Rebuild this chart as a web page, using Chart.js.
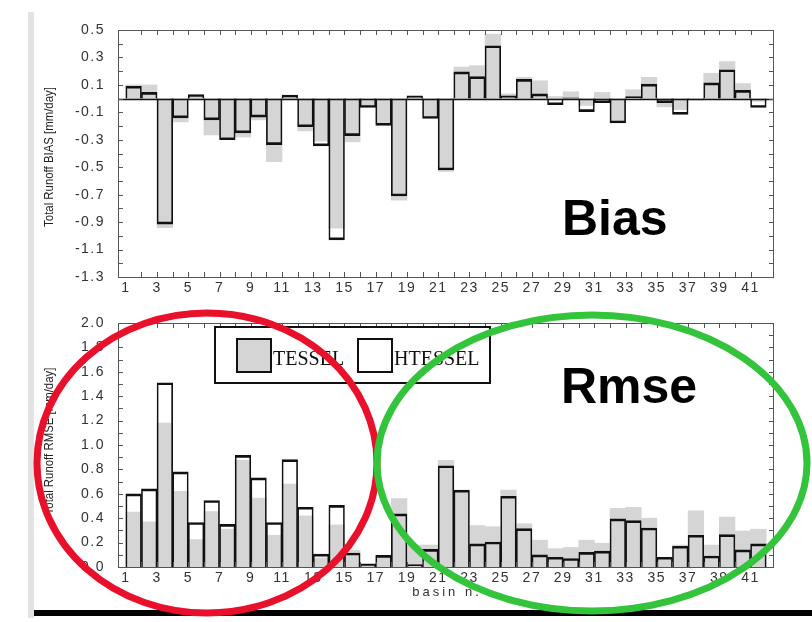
<!DOCTYPE html>
<html>
<head>
<meta charset="utf-8">
<title>Total Runoff Bias / Rmse per basin</title>
<script src="https://cdn.jsdelivr.net/npm/chart.js@4.4.0/dist/chart.umd.min.js"></script>
<style>
  html, body { margin:0; padding:0; background:#fff; }
  #wrap { position:relative; width:812px; height:622px; overflow:hidden; }
  #biasChart { position:absolute; left:0; top:0; }
  #rmseChart { position:absolute; left:0; top:300px; }
  #overlay { position:absolute; left:0; top:0; }
</style>
</head>
<body>
<div id="wrap">
  <canvas id="biasChart" width="812" height="300"></canvas>
  <canvas id="rmseChart" width="812" height="310"></canvas>
  <svg id="overlay" width="812" height="622" xmlns="http://www.w3.org/2000/svg">
    <rect x="28" y="12" width="6" height="606" fill="#e3e3e3"/>
    <rect x="34" y="610" width="778" height="6" fill="#000"/>
    <text x="562" y="235" font-family="Arial, 'Liberation Sans', sans-serif" font-weight="bold" font-size="50" fill="#000">Bias</text>
    <text x="561" y="403" font-family="Arial, 'Liberation Sans', sans-serif" font-weight="bold" font-size="50" fill="#000">Rmse</text>
    <ellipse cx="207" cy="463" rx="170" ry="150" fill="none" stroke="#e8102a" stroke-width="7"/>
    <ellipse cx="592" cy="463" rx="215" ry="148" fill="none" stroke="#33c43b" stroke-width="7"/>
  </svg>
</div>
<script>
// --- dati ---
const basins = [1,2,3,4,5,6,7,8,9,10,11,12,13,14,15,16,17,18,19,20,21,
                22,23,24,25,26,27,28,29,30,31,32,33,34,35,36,37,38,39,40,41];

const biasTessel = [0.10, 0.10, -0.94, -0.17, 0.01, -0.265, -0.28, -0.28, -0.155, -0.46,
  0.015, -0.235, -0.31, -0.945, -0.315, -0.055, -0.18, -0.74, 0.015, -0.13,
  -0.53, 0.23, 0.24, 0.47, 0.035, 0.155, 0.13, 0.015, 0.05, -0.05,
  0.045, -0.17, 0.065, 0.155, -0.06, -0.08, -0.005, 0.185, 0.27, 0.11, -0.02];

const biasHtessel = [0.09, 0.045, -0.915, -0.14, 0.03, -0.155, -0.30, -0.25, -0.135, -0.335,
  0.025, -0.205, -0.345, -1.03, -0.27, -0.065, -0.195, -0.71, 0.02, -0.145,
  -0.52, 0.195, 0.16, 0.385, 0.02, 0.14, 0.035, -0.045, 0.005, -0.095,
  -0.03, -0.178, 0.015, 0.105, -0.03, -0.115, -0.01, 0.115, 0.21, 0.06, -0.065];

const rmseTessel = [0.45, 0.37, 1.18, 0.62, 0.225, 0.455, 0.31, 0.875, 0.565, 0.26,
  0.68, 0.42, 0.075, 0.345, 0.135, 0.02, 0.09, 0.56, 0.18, 0.18,
  0.875, 0.625, 0.34, 0.33, 0.63, 0.355, 0.22, 0.15, 0.16, 0.22,
  0.195, 0.48, 0.49, 0.40, 0.075, 0.18, 0.46, 0.18, 0.41, 0.295, 0.31];

const rmseHtessel = [0.60, 0.64, 1.51, 0.78, 0.365, 0.545, 0.35, 0.915, 0.73, 0.365,
  0.88, 0.49, 0.105, 0.505, 0.115, 0.025, 0.095, 0.435, 0.02, 0.145,
  0.83, 0.63, 0.19, 0.205, 0.58, 0.315, 0.10, 0.08, 0.07, 0.12,
  0.13, 0.395, 0.38, 0.32, 0.08, 0.17, 0.26, 0.09, 0.265, 0.14, 0.19];

const seriesNames = ['TESSEL', 'HTESSEL'];
const biasTitle = 'Total Runoff BIAS [mm/day]';
const rmseTitle = 'Total Runoff RMSE [mm/day]';
const xTitle = 'basin n.';

const GRAY = '#d5d5d5';
const TICK_SPACING = '1.5px';
Chart.defaults.font.family = 'Arial, "Liberation Sans", sans-serif';

// spaziatura larga delle etichette, come nell'originale
const spacing = {
  id: 'spacing',
  beforeUpdate(chart) { chart.ctx.letterSpacing = TICK_SPACING; },
  beforeDraw(chart) { chart.ctx.letterSpacing = TICK_SPACING; }
};

// cornice, tacche interne, linea dello zero e titoli degli assi
const frameTicks = {
  id: 'frameTicks',
  afterDatasetsDraw(chart, args, o) {
    const { ctx, chartArea: a, scales: { x, y } } = chart;
    ctx.save();
    // linea dello zero
    if (y.min < 0 && y.max > 0) {
      const y0 = Math.round(y.getPixelForValue(0)) + 0.5;
      ctx.strokeStyle = '#111'; ctx.lineWidth = 1.6;
      ctx.beginPath(); ctx.moveTo(a.left, y0); ctx.lineTo(a.right, y0); ctx.stroke();
    }
    ctx.strokeStyle = '#555'; ctx.lineWidth = 1;
    ctx.strokeRect(a.left + 0.5, a.top + 0.5, a.right - a.left - 1, a.bottom - a.top);
    ctx.beginPath();
    const n = Math.round((y.max - y.min) / 0.1);
    for (let i = 1; i < n; i++) {
      const py = Math.round(y.getPixelForValue(y.min + i * 0.1)) + 0.5;
      ctx.moveTo(a.left, py); ctx.lineTo(a.left + 5, py);
      ctx.moveTo(a.right, py); ctx.lineTo(a.right - 5, py);
    }
    for (let v = Math.ceil(x.min) + 1; v < x.max; v++) {
      const px = Math.round(x.getPixelForValue(v)) + 0.5;
      ctx.moveTo(px, a.top); ctx.lineTo(px, a.top + 5);
      ctx.moveTo(px, a.bottom); ctx.lineTo(px, a.bottom - 5);
    }
    ctx.stroke();
    // titolo asse y
    ctx.letterSpacing = '0px';
    ctx.fillStyle = '#222';
    ctx.font = '12px Arial, "Liberation Sans", sans-serif';
    ctx.textAlign = 'center'; ctx.textBaseline = 'middle';
    ctx.translate(o.titleX, o.titleY);
    ctx.rotate(-Math.PI / 2);
    ctx.scale(0.95, 1);
    ctx.fillText(o.title, 0, 0);
    ctx.restore();
    if (o.xTitle) {
      ctx.save();
      ctx.fillStyle = '#333';
      ctx.font = '13px Arial, "Liberation Sans", sans-serif';
      ctx.textAlign = 'center'; ctx.textBaseline = 'middle';
      ctx.letterSpacing = '3px';
      ctx.fillText(o.xTitle, (a.left + a.right) / 2 + 1, o.xTitleY);
      ctx.restore();
    }
  }
};

// legenda a riquadro (solo grafico RMSE)
const boxLegend = {
  id: 'boxLegend',
  afterDraw(chart, args, o) {
    if (!o.show) return;
    const ctx = chart.ctx;
    const ds = chart.data.datasets;
    ctx.save();
    ctx.letterSpacing = '0px';
    ctx.fillStyle = '#fff';
    ctx.fillRect(o.x, o.y, o.w, o.h);
    ctx.strokeStyle = '#111'; ctx.lineWidth = 2;
    ctx.strokeRect(o.x, o.y, o.w, o.h);
    ctx.font = '20px "Times New Roman", "Liberation Serif", serif';
    ctx.textBaseline = 'alphabetic';
    o.items.forEach((it, i) => {
      const d = ds[i];
      ctx.fillStyle = d.legendFill;
      ctx.fillRect(it.sx, o.y + 12, 34, 33);
      ctx.strokeRect(it.sx, o.y + 12, 34, 33);
      ctx.fillStyle = '#111';
      ctx.fillText(d.label, it.sx + 36, o.y + 38);
    });
    ctx.restore();
  }
};

function makeChart(id, tessel, htessel, yMin, yMax, padTop, xHeight, pluginOpts, legendOpts) {
  return new Chart(document.getElementById(id), {
    type: 'bar',
    data: {
      datasets: [
        {
          label: seriesNames[0],
          data: basins.map((b, i) => ({ x: b + 0.5, y: tessel[i] })),
          backgroundColor: GRAY, legendFill: GRAY,
          borderWidth: 0,
          grouped: false, order: 2,
          barPercentage: 1, categoryPercentage: 1
        },
        {
          label: seriesNames[1],
          data: basins.map((b, i) => ({ x: b + 0.5, y: htessel[i] })),
          backgroundColor: 'rgba(0,0,0,0)', legendFill: '#fff',
          borderColor: '#111',
          borderWidth: { top: 2, bottom: 2, left: 1, right: 1 },
          grouped: false, order: 1,
          barPercentage: 1, categoryPercentage: 1
        }
      ]
    },
    options: {
      responsive: false,
      animation: false,
      events: [],
      layout: { padding: { top: padTop, right: 38, left: 0, bottom: 0 } },
      plugins: {
        legend: { display: false },
        tooltip: { enabled: false },
        frameTicks: pluginOpts,
        boxLegend: legendOpts
      },
      scales: {
        x: {
          type: 'linear', min: 1, max: 42,
          grid: { display: false, drawTicks: false },
          border: { display: false },
          ticks: {
            stepSize: 1, autoSkip: false, maxRotation: 0, padding: 3,
            color: '#333', font: { size: 14 },
            callback: v => (v % 2 === 1 ? String(v) : '')
          },
          afterFit: s => { s.height = xHeight; }
        },
        y: {
          min: yMin, max: yMax,
          grid: { display: false, drawTicks: false },
          border: { display: false },
          ticks: {
            stepSize: 0.2, padding: 13,
            color: '#333', font: { size: 14 },
            callback: v => v.toFixed(1)
          },
          afterFit: s => { s.width = 118; }
        }
      }
    },
    plugins: [spacing, frameTicks, boxLegend]
  });
}

makeChart('biasChart', biasTessel, biasHtessel, -1.3, 0.5, 30, 23,
  { title: biasTitle, titleX: 50, titleY: 157 },
  { show: false });

makeChart('rmseChart', rmseTessel, rmseHtessel, 0, 2.0, 23, 43,
  { title: rmseTitle, titleX: 50, titleY: 141, xTitle: xTitle, xTitleY: 292 },
  { show: true, x: 215, y: 27, w: 275, h: 56, items: [{ sx: 237 }, { sx: 358 }] });
</script>
</body>
</html>
